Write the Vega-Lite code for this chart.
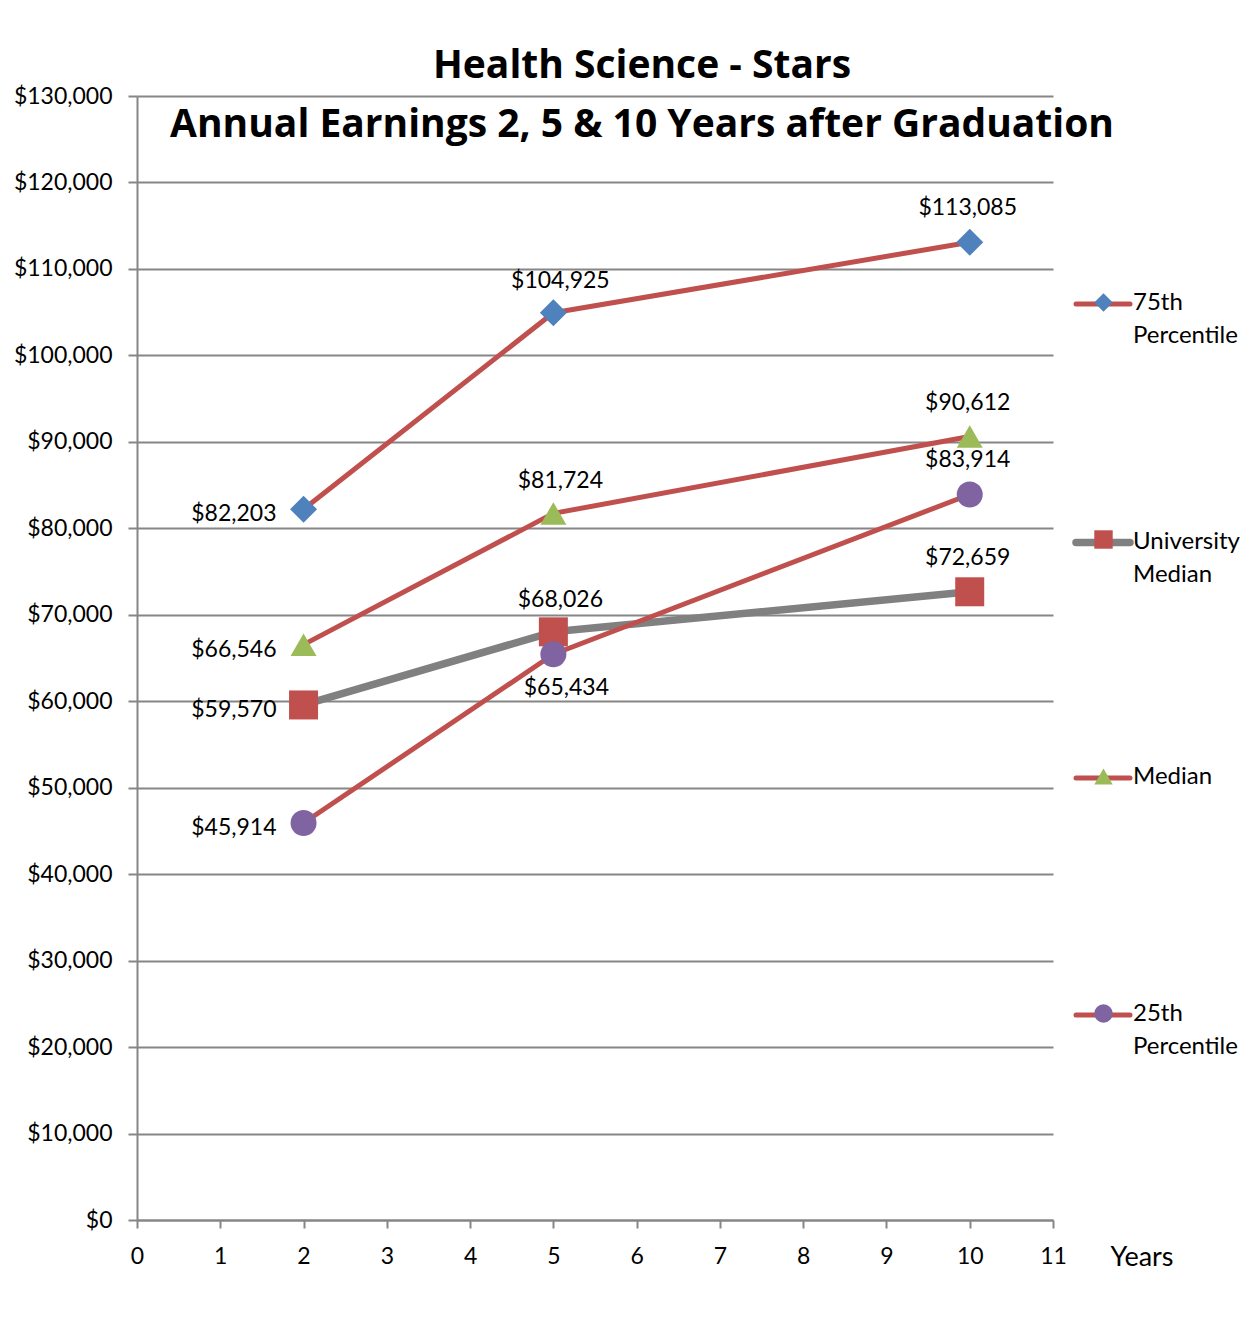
{
  "$schema": "https://vega.github.io/schema/vega-lite/v6.json",
  "width": 916,
  "height": 1124,
  "autosize": {"type": "none"},
  "padding": {"left": 137, "top": 96, "right": 200, "bottom": 97},
  "background": "white",
  "config": {"view": {"stroke": null}},
  "title": {
    "text": ["Health Science - Stars", "Annual Earnings 2, 5 & 10 Years after Graduation"],
    "font": "Open Sans",
    "fontSize": 39,
    "fontWeight": "bold",
    "color": "black",
    "lineHeight": 59,
    "anchor": "middle",
    "frame": "group",
    "dx": 47,
    "offset": -60
  },
  "data": {
    "values": [
      {"series": "University Median", "year": 2, "value": 59570},
      {"series": "University Median", "year": 5, "value": 68026},
      {"series": "University Median", "year": 10, "value": 72659},
      {"series": "75th Percentile", "year": 2, "value": 82203},
      {"series": "75th Percentile", "year": 5, "value": 104925},
      {"series": "75th Percentile", "year": 10, "value": 113085},
      {"series": "Median", "year": 2, "value": 66546},
      {"series": "Median", "year": 5, "value": 81724},
      {"series": "Median", "year": 10, "value": 90612},
      {"series": "25th Percentile", "year": 2, "value": 45914},
      {"series": "25th Percentile", "year": 5, "value": 65434},
      {"series": "25th Percentile", "year": 10, "value": 83914}
    ]
  },
  "encoding": {
    "x": {
      "field": "year",
      "type": "quantitative",
      "scale": {"domain": [0, 11], "nice": false, "zero": false},
      "axis": {
        "values": [0, 1, 2, 3, 4, 5, 6, 7, 8, 9, 10, 11],
        "format": "d",
        "title": "Years",
        "titleFont": "Lato",
        "titleFontSize": 27,
        "titleFontWeight": "normal",
        "titleColor": "black",
        "titleX": 1004.5,
        "titleY": 37,
        "titleAlign": "center",
        "titleBaseline": "middle",
        "labelFont": "Lato",
        "labelFontSize": 23,
        "labelColor": "black",
        "labelPadding": 17,
        "labelFlush": false,
        "labelOverlap": false,
        "tickSize": 8,
        "tickColor": "#868686",
        "tickWidth": 2,
        "domainColor": "#868686",
        "domainWidth": 2,
        "grid": false
      }
    },
    "y": {
      "field": "value",
      "type": "quantitative",
      "scale": {"domain": [0, 130000], "nice": false},
      "axis": {
        "values": [0, 10000, 20000, 30000, 40000, 50000, 60000, 70000, 80000, 90000, 100000, 110000, 120000, 130000],
        "format": "$,.0f",
        "title": null,
        "labelFont": "Lato",
        "labelFontSize": 23,
        "labelColor": "black",
        "labelPadding": 16,
        "labelFlush": false,
        "labelOverlap": false,
        "tickSize": 9,
        "tickColor": "#868686",
        "tickWidth": 2,
        "domainColor": "#868686",
        "domainWidth": 2,
        "grid": true,
        "gridColor": "#868686",
        "gridWidth": 2
      }
    }
  },
  "layer": [
    {
      "mark": {"type": "line", "strokeCap": "round", "strokeJoin": "round"},
      "encoding": {
        "color": {
          "field": "series",
          "type": "nominal",
          "scale": {
            "domain": ["75th Percentile", "University Median", "Median", "25th Percentile"],
            "range": ["#C0504D", "#808080", "#C0504D", "#C0504D"]
          },
          "legend": {
            "orient": "none",
            "legendX": 935,
            "legendY": 178.5,
            "direction": "vertical",
            "title": null,
            "symbolType": "stroke",
            "symbolSize": 2916,
            "symbolStrokeWidth": 6,
            "labelFont": "Lato",
            "labelFontSize": 24,
            "labelColor": "black",
            "labelOffset": -1,
            "labelBaseline": "top",
            "labelLimit": 300,
            "labelExpr": "datum.label == 'Median' ? 'Median' : split(datum.label, ' ')",
            "gridAlign": "all",
            "rowPadding": 162,
            "padding": 0,
            "encoding": {
              "symbols": {
                "strokeWidth": {"condition": {"test": "datum.value === 'University Median'", "value": 8}, "value": 6},
                "strokeCap": {"value": "round"}
              },
              "labels": {
                "dy": {"value": -13},
                "lineHeight": {"value": 33}
              }
            }
          }
        },
        "strokeWidth": {
          "field": "series",
          "type": "nominal",
          "scale": {
            "type": "ordinal",
            "domain": ["75th Percentile", "University Median", "Median", "25th Percentile"],
            "range": [5, 7.5, 5, 5]
          },
          "legend": null
        }
      }
    },
    {
      "mark": {"type": "point", "filled": true, "opacity": 1, "strokeWidth": 0},
      "encoding": {
        "shape": {
          "field": "series",
          "type": "nominal",
          "sort": ["75th Percentile", "University Median", "Median", "25th Percentile"],
          "scale": {"range": ["diamond", "square", "triangle-up", "circle"]},
          "legend": {
            "orient": "none",
            "legendX": 957,
            "legendY": 197,
            "direction": "vertical",
            "title": null,
            "symbolSize": 340,
            "symbolStrokeWidth": 0,
            "labelExpr": "''",
            "gridAlign": "all",
            "rowPadding": 218,
            "padding": 0,
            "encoding": {
              "symbols": {
                "fill": {
                  "condition": [
                    {"test": "datum.value === '75th Percentile'", "value": "#4F81BD"},
                    {"test": "datum.value === 'University Median'", "value": "#C0504D"},
                    {"test": "datum.value === 'Median'", "value": "#9BBB59"}
                  ],
                  "value": "#8064A2"
                },
                "opacity": {"value": 1}
              }
            }
          }
        },
        "fill": {
          "field": "series",
          "type": "nominal",
          "sort": ["75th Percentile", "University Median", "Median", "25th Percentile"],
          "scale": {"range": ["#4F81BD", "#C0504D", "#9BBB59", "#8064A2"]},
          "legend": null
        },
        "size": {
          "field": "series",
          "type": "nominal",
          "sort": ["75th Percentile", "University Median", "Median", "25th Percentile"],
          "scale": {"type": "ordinal", "range": [729, 841, 676, 676]},
          "legend": null
        }
      }
    },
    {
      "transform": [{"filter": "datum.year == 2"}],
      "mark": {"type": "text", "font": "Lato", "fontSize": 23, "color": "black", "align": "right", "baseline": "middle", "dx": -27, "dy": 5},
      "encoding": {"text": {"field": "value", "type": "quantitative", "format": "$,.0f"}}
    },
    {
      "transform": [{"filter": "datum.year == 5 && datum.series != '25th Percentile'"}],
      "mark": {"type": "text", "font": "Lato", "fontSize": 23, "color": "black", "align": "center", "baseline": "middle", "dx": 7, "dy": -32},
      "encoding": {"text": {"field": "value", "type": "quantitative", "format": "$,.0f"}}
    },
    {
      "transform": [{"filter": "datum.year == 10"}],
      "mark": {"type": "text", "font": "Lato", "fontSize": 23, "color": "black", "align": "center", "baseline": "middle", "dx": -2, "dy": -34},
      "encoding": {"text": {"field": "value", "type": "quantitative", "format": "$,.0f"}}
    },
    {
      "transform": [{"filter": "datum.year == 5 && datum.series == '25th Percentile'"}],
      "mark": {"type": "text", "font": "Lato", "fontSize": 23, "color": "black", "align": "center", "baseline": "middle", "dx": 13, "dy": 34},
      "encoding": {"text": {"field": "value", "type": "quantitative", "format": "$,.0f"}}
    }
  ]
}
